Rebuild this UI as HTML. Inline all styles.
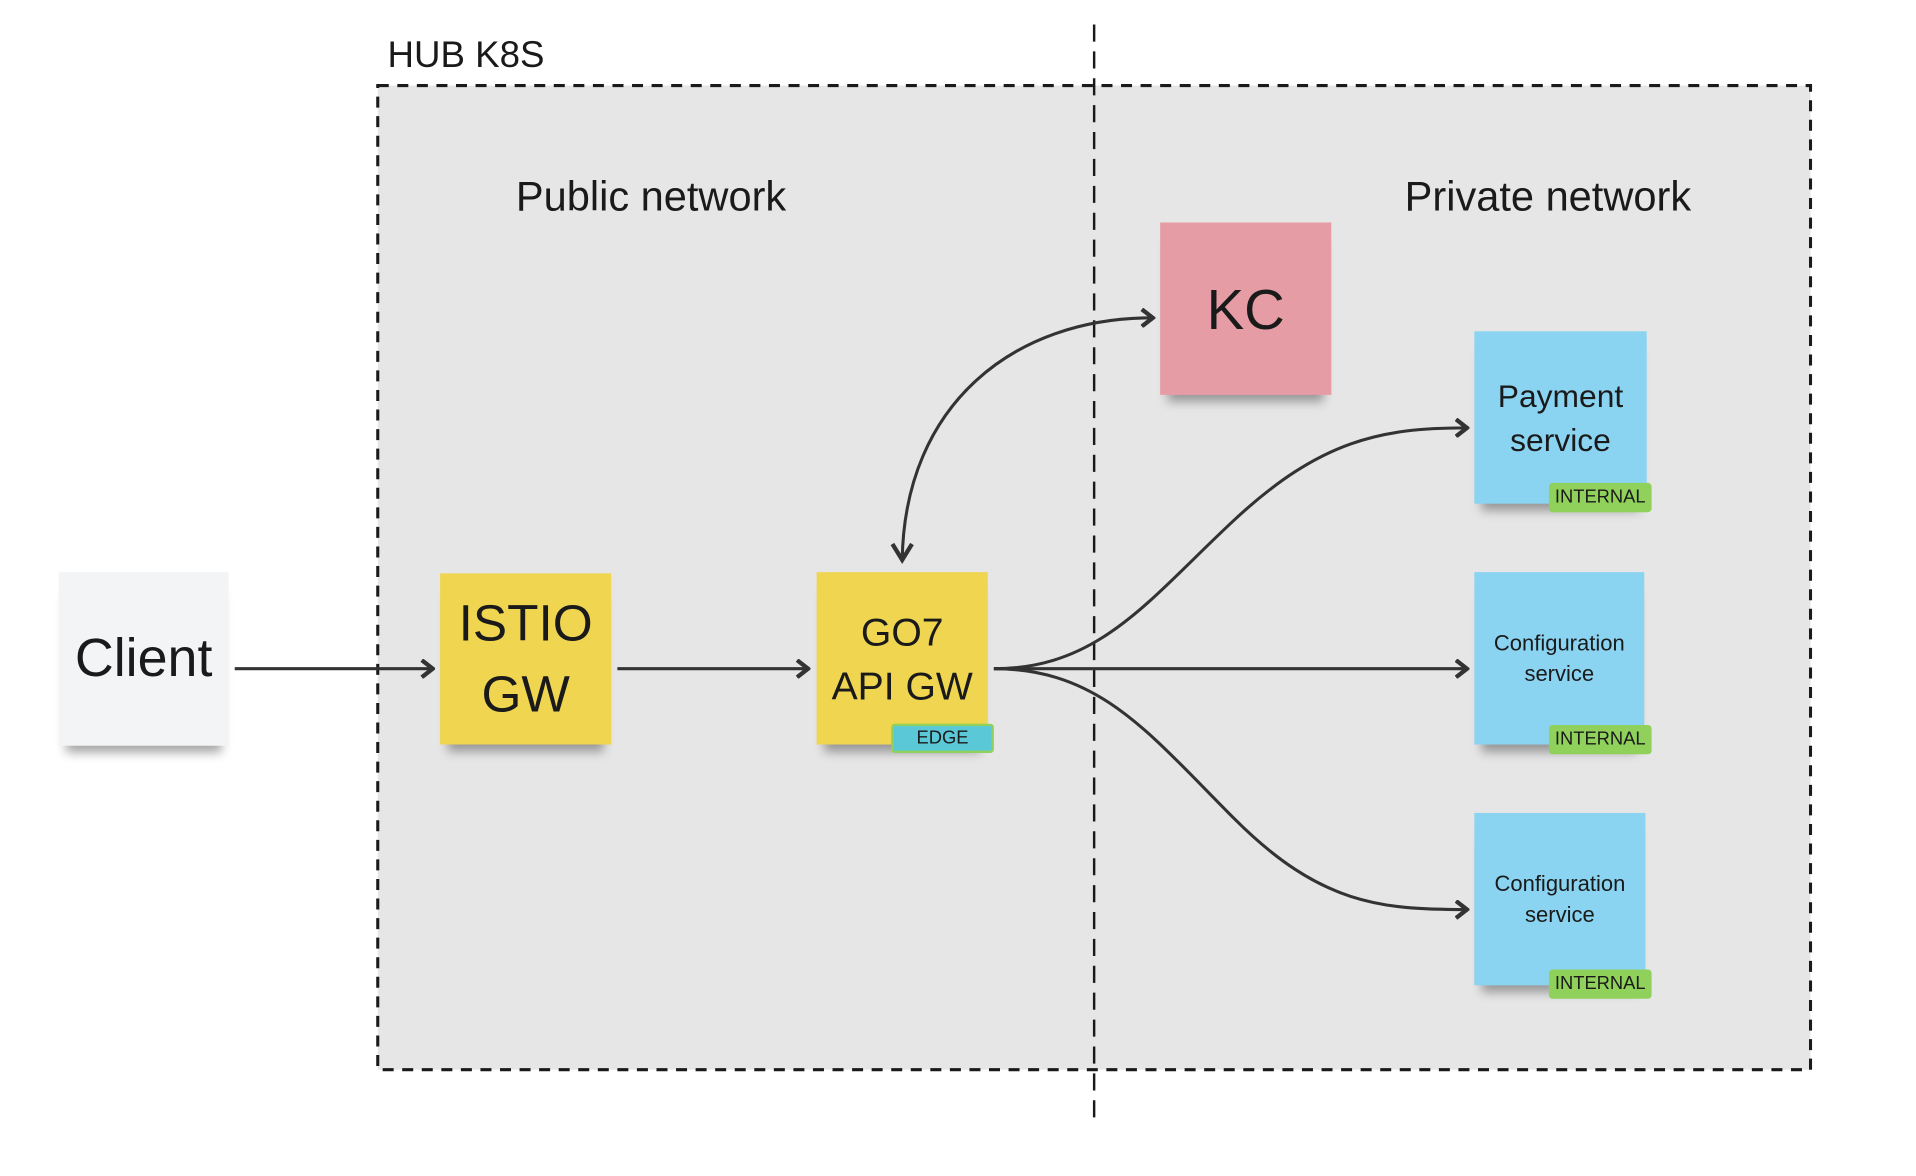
<!DOCTYPE html>
<html><head><meta charset="utf-8"><style>
html,body{margin:0;padding:0;background:#fff;width:1916px;height:1176px;overflow:hidden}
#c{position:absolute;left:0;top:0;width:1570px;height:962px;transform:scale(1.2225);transform-origin:0 0;font-family:"Liberation Sans",sans-serif;color:#1a1a1a}
.box{position:absolute;left:309px;top:70px;width:1172px;height:805px;background:#e6e6e6}
.n{position:absolute;display:flex;align-items:center;justify-content:center;text-align:center;box-shadow:0 12px 8px -6px rgba(0,0,0,0.35)}
.t{position:absolute;font-size:34px;white-space:nowrap}
.tag{position:absolute;height:20px;font-size:15px;line-height:20px;text-align:center;border-radius:3px;border:2px solid #8fd15a}
</style></head><body><div id="c">
<div class="box"></div>
<svg width="1570" height="962" style="position:absolute;left:0;top:0">
<rect x="309" y="70" width="1172" height="805" fill="none" stroke="#1a1a1a" stroke-width="2.5" stroke-dasharray="9,7"/>
<line x1="895" y1="20" x2="895" y2="918" stroke="#1a1a1a" stroke-width="2" stroke-dasharray="14,8"/>
</svg>
<div class="t" style="left:317px;top:29px;font-size:30px">HUB K8S</div>
<div class="t" style="left:422px;top:142px">Public network</div>
<div class="t" style="left:1149px;top:142px">Private network</div>
<div class="n" style="left:48px;top:468px;width:139px;height:142px;background:#f3f4f6;font-size:44px">Client</div>
<div class="n" style="left:360px;top:469px;width:140px;height:140px;background:#f0d550;font-size:42px;line-height:58px">ISTIO<br>GW</div>
<div class="n" style="left:668px;top:468px;width:140px;height:141px;background:#f0d550;font-size:32px;line-height:44px">GO7<br>API GW</div>
<div class="tag" style="left:729px;top:592px;width:80px;background:#5bc8d8">EDGE</div>
<div class="n" style="left:949px;top:182px;width:140px;height:141px;background:#e69ca5;font-size:46px">KC</div>
<div class="n" style="left:1206px;top:271px;width:141px;height:141px;background:#8ad4f2;font-size:26px;line-height:36px">Payment<br>service</div>
<div class="tag" style="left:1267px;top:395px;width:80px;background:#8fd15a">INTERNAL</div>
<div class="n" style="left:1206px;top:468px;width:139px;height:141px;background:#8ad4f2;font-size:18px;line-height:25px">Configuration<br>service</div>
<div class="tag" style="left:1267px;top:593px;width:80px;background:#8fd15a">INTERNAL</div>
<div class="n" style="left:1206px;top:665px;width:140px;height:141px;background:#8ad4f2;font-size:18px;line-height:25px">Configuration<br>service</div>
<div class="tag" style="left:1267px;top:793px;width:80px;background:#8fd15a">INTERNAL</div>
<svg width="1570" height="962" style="position:absolute;left:0;top:0">
<defs><marker id="a" markerWidth="12" markerHeight="16" refX="9" refY="8" orient="auto" markerUnits="userSpaceOnUse"><path d="M1,1 L10,8 L1,15" fill="none" stroke="#333" stroke-width="3.5"/></marker></defs>
<g fill="none" stroke="#333" stroke-width="2.5">
<path d="M192,547 L353,547" marker-end="url(#a)"/>
<path d="M505,547 L660,547" marker-end="url(#a)"/>
<path d="M813,547 L1199,547" marker-end="url(#a)"/>
<path d="M813,547 C900,547 940,490 1010,425 C1080,360 1130,350 1199,350" marker-end="url(#a)"/>
<path d="M813,547 C900,547 940,600 1010,670 C1080,740 1130,744 1199,744" marker-end="url(#a)"/>
<path d="M738,458 C740,330 830,260 942,260" marker-end="url(#a)"/>
</g>
<path d="M730,445 L738,458 L746,445" fill="none" stroke="#333" stroke-width="3.5"/>
</svg>
</div></body></html>
